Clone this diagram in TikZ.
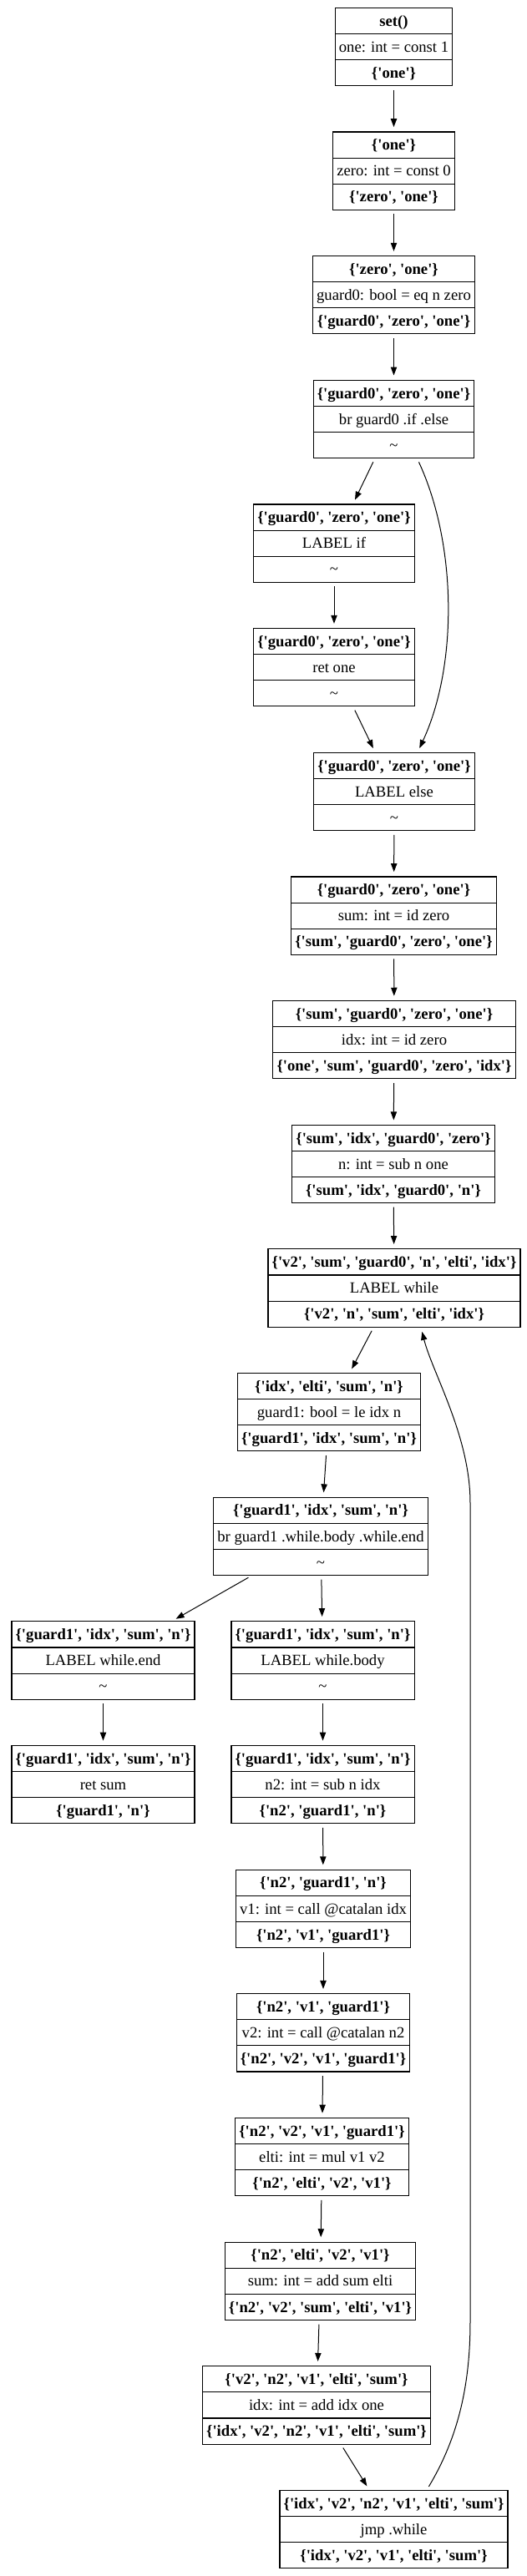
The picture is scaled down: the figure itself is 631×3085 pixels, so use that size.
\documentclass[tikz,border=0pt]{standalone}
\usepackage{fontspec}
\setmainfont{Liberation Serif}[Ligatures=TeXOff]
\usetikzlibrary{arrows.meta,calc,shapes.multipart}
\newcommand\rw[1]{\rule[-6.6pt]{0pt}{22.5pt}#1}
\newcommand\blk[3]{\rw{\textbf{#1}}\nodepart{two}\rw{#2}\nodepart{three}\rw{\textbf{#3}}}
\newcommand\tl{\textmd{\textasciitilde}}
\tikzset{
  >={Triangle[length=7.5pt,width=5.5pt]},
  rec/.style={rectangle split,rectangle split parts=3,draw,line width=0.8pt,inner xsep=3.5pt,inner ysep=0pt,font=\fontsize{14}{16}\selectfont},
  arr/.style={->,line width=0.75pt,shorten <=3.5pt,shorten >=4pt},
}
\begin{document}
\begin{tikzpicture}[x=0.75pt,y=0.75pt]
\useasboundingbox (0,0) rectangle (631,-3085);
% entry block
\node[rec] (set0) at (471.5,-56) {\blk{set()}{one: int = const 1}{\{'one'\}}};
\node[rec] (one) at (471.5,-204.6) {\blk{\{'one'\}}{zero: int = const 0}{\{'zero', 'one'\}}};
\node[rec] (eqz) at (471.5,-353.3) {\blk{\{'zero', 'one'\}}{guard0: bool = eq n zero}{\{'guard0', 'zero', 'one'\}}};
\node[rec] (brif) at (471.5,-502) {\blk{\{'guard0', 'zero', 'one'\}}{br guard0 .if .else}{\tl}};
\node[rec] (lif) at (400,-650.6) {\blk{\{'guard0', 'zero', 'one'\}}{LABEL if}{\tl}};
\node[rec] (retone) at (400,-799.3) {\blk{\{'guard0', 'zero', 'one'\}}{ret one}{\tl}};
\node[rec] (lelse) at (472,-948) {\blk{\{'guard0', 'zero', 'one'\}}{LABEL else}{\tl}};
\node[rec] (sumz) at (471.5,-1096.6) {\blk{\{'guard0', 'zero', 'one'\}}{sum: int = id zero}{\{'sum', 'guard0', 'zero', 'one'\}}};
\node[rec] (idxz) at (472,-1245.2) {\blk{\{'sum', 'guard0', 'zero', 'one'\}}{idx: int = id zero}{\{'one', 'sum', 'guard0', 'zero', 'idx'\}}};
\node[rec] (nsub) at (471,-1393.9) {\blk{\{'sum', 'idx', 'guard0', 'zero'\}}{n: int = sub n one}{\{'sum', 'idx', 'guard0', 'n'\}}};
% loop
\node[rec] (lwhile) at (472,-1542.5) {\blk{\{'v2', 'sum', 'guard0', 'n', 'elti', 'idx'\}}{LABEL while}{\{'v2', 'n', 'sum', 'elti', 'idx'\}}};
\node[rec] (le) at (394,-1691.2) {\blk{\{'idx', 'elti', 'sum', 'n'\}}{guard1: bool = le idx n}{\{'guard1', 'idx', 'sum', 'n'\}}};
\node[rec] (brw) at (384,-1839.8) {\blk{\{'guard1', 'idx', 'sum', 'n'\}}{br guard1 .while.body .while.end}{\tl}};
\node[rec] (lend) at (123.5,-1988.5) {\blk{\{'guard1', 'idx', 'sum', 'n'\}}{LABEL while.end}{\tl}};
\node[rec] (lbody) at (386.5,-1988.5) {\blk{\{'guard1', 'idx', 'sum', 'n'\}}{LABEL while.body}{\tl}};
\node[rec] (retsum) at (123.5,-2137.1) {\blk{\{'guard1', 'idx', 'sum', 'n'\}}{ret sum}{\{'guard1', 'n'\}}};
\node[rec] (n2) at (386.5,-2137.1) {\blk{\{'guard1', 'idx', 'sum', 'n'\}}{n2: int = sub n idx}{\{'n2', 'guard1', 'n'\}}};
\node[rec] (v1) at (387,-2285.8) {\blk{\{'n2', 'guard1', 'n'\}}{v1: int = call @catalan idx}{\{'n2', 'v1', 'guard1'\}}};
\node[rec] (v2) at (387,-2434.4) {\blk{\{'n2', 'v1', 'guard1'\}}{v2: int = call @catalan n2}{\{'n2', 'v2', 'v1', 'guard1'\}}};
\node[rec] (elti) at (385.5,-2583.1) {\blk{\{'n2', 'v2', 'v1', 'guard1'\}}{elti: int = mul v1 v2}{\{'n2', 'elti', 'v2', 'v1'\}}};
\node[rec] (addsum) at (383.5,-2731.7) {\blk{\{'n2', 'elti', 'v2', 'v1'\}}{sum: int = add sum elti}{\{'n2', 'v2', 'sum', 'elti', 'v1'\}}};
\node[rec] (addidx) at (379,-2880.4) {\blk{\{'v2', 'n2', 'v1', 'elti', 'sum'\}}{idx: int = add idx one}{\{'idx', 'v2', 'n2', 'v1', 'elti', 'sum'\}}};
\node[rec] (jmp) at (471.5,-3029) {\blk{\{'idx', 'v2', 'n2', 'v1', 'elti', 'sum'\}}{jmp .while}{\{'idx', 'v2', 'v1', 'elti', 'sum'\}}};
% edges
\draw[arr] (set0)--(one); \draw[arr] (one)--(eqz); \draw[arr] (eqz)--(brif);
\draw[arr] (brif)--(lif); \draw[arr] (lif)--(retone); \draw[arr] (retone)--(lelse);
\draw[arr] ($(brif.south)+(28,0)$) .. controls +(48,-103.5) and +(48,103) .. ($(lelse.north)+(28,0)$);
\draw[arr] (lelse)--(sumz); \draw[arr] (sumz)--(idxz); \draw[arr] (idxz)--(nsub); \draw[arr] (nsub)--(lwhile);
\draw[arr] (lwhile)--(le); \draw[arr] (le)--(brw); \draw[arr] (brw)--(lend); \draw[arr] (brw)--(lbody);
\draw[arr] (lend)--(retsum); \draw[arr] (lbody)--(n2); \draw[arr] (n2)--(v1); \draw[arr] (v1)--(v2);
\draw[arr] (v2)--(elti); \draw[arr] (elti)--(addsum); \draw[arr] (addsum)--(addidx); \draw[arr] (addidx)--(jmp);
% back edge
\draw[arr] ($(jmp.north)+(39.5,0)$) .. controls +(36,60) and +(0,-80) .. (563,-2780) -- (563,-1800)
  .. controls +(0,80) and ($(lwhile.south)+(46,-55)$) .. ($(lwhile.south)+(32,0)$);
\end{tikzpicture}
\end{document}
